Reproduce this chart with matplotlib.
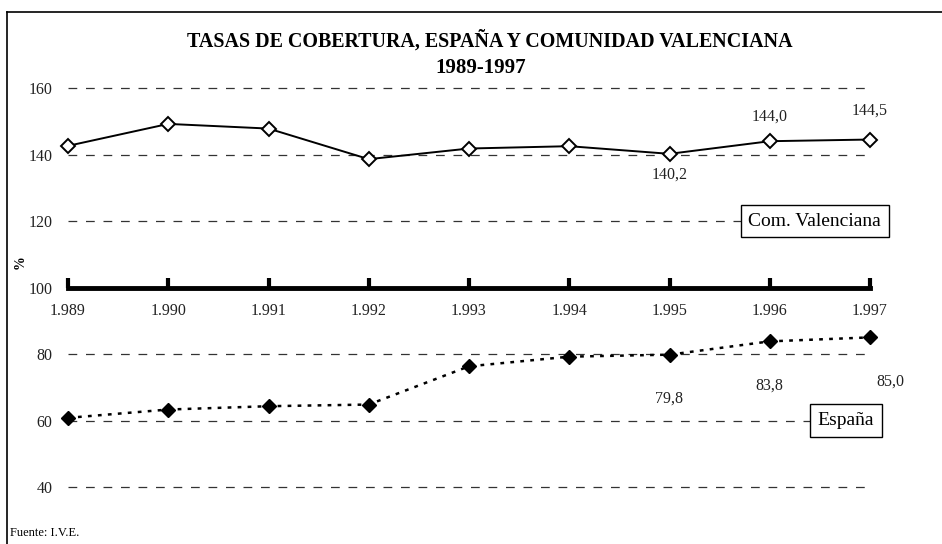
"""
Tasas de cobertura, España y Comunidad Valenciana 1989-1997
"""
import matplotlib
matplotlib.use('Agg')
import matplotlib.pyplot as plt
from matplotlib.lines import Line2D

plt.rcParams['font.family'] = ['Liberation Serif', 'DejaVu Serif']

# datos
years = [1989, 1990, 1991, 1992, 1993, 1994, 1995, 1996, 1997]
year_labels = ['1.989', '1.990', '1.991', '1.992', '1.993', '1.994', '1.995', '1.996', '1.997']
valenciana = [142.6, 149.2, 147.8, 138.6, 141.8, 142.5, 140.2, 144.0, 144.5]
espana = [60.8, 63.3, 64.3, 64.8, 76.3, 79.2, 79.8, 83.8, 85.0]
y_ticks = [40, 60, 80, 100, 120, 140, 160]

# etiquetas de valor (indice, texto)
val_labels = [(6, '140,2'), (7, '144,0'), (8, '144,5')]
esp_labels = [(6, '79,8'), (7, '83,8'), (8, '85,0')]

fig = plt.figure(figsize=(9.42, 5.44), dpi=100)
ax = fig.add_axes([68 / 942, 1 - 487 / 544, (870 - 68) / 942, (487 - 88) / 544])

# marco de la figura (izquierda y arriba)
fig.add_artist(Line2D([7 / 942, 7 / 942], [0, 1 - 12 / 544], color='black', lw=1.2))
fig.add_artist(Line2D([7 / 942, 1], [1 - 12 / 544, 1 - 12 / 544], color='black', lw=1.2))

# lineas de rejilla discontinuas
for t in y_ticks:
    if t != 100:
        ax.axhline(t, color='#333333', lw=0.9, dashes=(7, 7), zorder=1, clip_on=False)

ax.plot(years, valenciana, color='black', lw=1.4, marker='D', markersize=7,
        markerfacecolor='white', markeredgecolor='black', markeredgewidth=1.4,
        clip_on=False, zorder=3)
ax.plot(years, espana, color='black', lw=1.8, linestyle=(0, (1.5, 2.5)), marker='D',
        markersize=7.5, markerfacecolor='black', markeredgecolor='black',
        clip_on=False, zorder=3)

ax.set_xlim(1989, 1997)
ax.set_ylim(40, 160)

# eje horizontal grueso en 100
for s in ['top', 'right', 'left']:
    ax.spines[s].set_visible(False)
ax.spines['bottom'].set_position(('data', 100))
ax.spines['bottom'].set_linewidth(3.5)
ax.spines['bottom'].set_zorder(2)
ax.set_xticks(years)
ax.set_xticklabels(year_labels, fontsize=11.5, color='#222222')
ax.tick_params(axis='x', direction='in', length=7, width=3, pad=11)
ax.set_yticks(y_ticks)
ax.set_yticklabels([str(t) for t in y_ticks], fontsize=11.5, color='#222222')
ax.tick_params(axis='y', length=0, pad=11)

ax.text(-0.06, 0.563, '%', transform=ax.transAxes, rotation=90, fontsize=10,
        fontweight='bold', ha='center', va='center')

# etiquetas de datos
for i, txt in val_labels:
    if i == 6:
        ax.annotate(txt, (years[i], valenciana[i]), xytext=(0, -9), textcoords='offset points',
                    ha='center', va='top', fontsize=11.5, color='#222222')
    else:
        up = 15 if i == 8 else 12
        ax.annotate(txt, (years[i], valenciana[i]), xytext=(0, up), textcoords='offset points',
                    ha='center', va='bottom', fontsize=11.5, color='#222222')
for i, txt in esp_labels:
    dx = 15 if i == 8 else 0
    ax.annotate(txt, (years[i], espana[i]), xytext=(dx, -26), textcoords='offset points',
                ha='center', va='top', fontsize=11.5, color='#222222')

# cajas de leyenda
box = dict(boxstyle='square,pad=0.4', facecolor='white', edgecolor='black', lw=1)
ax.text(1996.45, 120, 'Com. Valenciana', fontsize=14, ha='center', va='center',
        bbox=box, zorder=4, clip_on=False)
ax.text(1996.76, 60, 'España', fontsize=14, ha='center', va='center',
        bbox=box, zorder=4, clip_on=False)

fig.text(490 / 942, 1 - 41 / 544, 'TASAS DE COBERTURA, ESPAÑA Y COMUNIDAD VALENCIANA',
         ha='center', va='center', fontsize=14.4, fontweight='bold')
fig.text(481 / 942, 1 - 68 / 544, '1989-1997', ha='center', va='center',
         fontsize=15, fontweight='bold')
fig.text(10 / 942, 1 - 533 / 544, 'Fuente: I.V.E.', ha='left', va='center', fontsize=9)

plt.savefig('out.png', dpi=100)
plt.close()
